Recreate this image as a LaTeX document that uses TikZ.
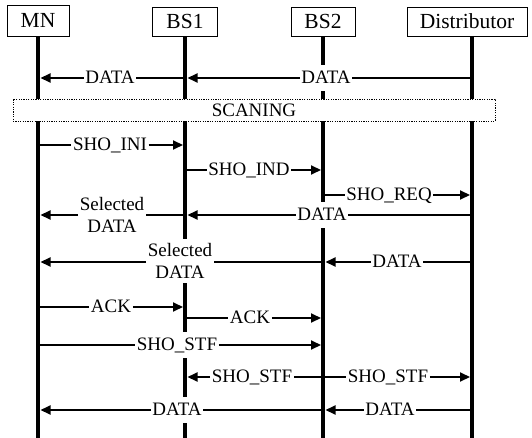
\documentclass[tikz,border=0pt]{standalone}
\usepackage{fontspec}
\setmainfont{Liberation Serif}
\usetikzlibrary{arrows.meta}
\begin{document}
\begin{tikzpicture}[x=1pt,y=-1pt,
  hdr/.style={draw, line width=0.8pt, minimum height=29pt, inner sep=0pt, font=\fontsize{21.5}{24}\selectfont},
  life/.style={line width=4pt},
  seg/.style={line width=2pt},
  msg/.style={line width=2pt, -{Triangle[length=10pt,width=9pt]}},
  lbl/.style={fill=white, inner xsep=1.5pt, inner ysep=5pt, text height=13.5pt, text depth=3pt, font=\fontsize{19}{22}\selectfont},
  mlbl/.style={fill=white, inner xsep=1.5pt, inner ysep=4pt, align=center, font=\fontsize{19}{22}\selectfont},
  scanbox/.style={draw, fill=white, line width=0.8pt, dash pattern=on 1.2pt off 1.2pt, minimum width=482pt, minimum height=22pt, inner sep=0pt, font=\fontsize{19}{22}\selectfont}
]
\useasboundingbox (0,0) rectangle (532,438);
% headers
\node[hdr, minimum width=62pt, minimum height=31pt] (mn) at (38,20.5) {MN};
\node[hdr, minimum width=65pt] (bs1) at (185,21.5) {BS1};
\node[hdr, minimum width=64pt] (bs2) at (323,21.5) {BS2};
\node[hdr, minimum width=120pt] (dist) at (467,21.5) {Distributor};
% lifelines
\coordinate (mnE) at (38,438);
\coordinate (bs1E) at (185,438);
\coordinate (bs2E) at (323,438);
\coordinate (dT) at (472,36);
\coordinate (dE) at (472,438);
\draw[life] (mn.south) -- (mnE);
\draw[life] (bs1.south) -- (bs1E);
\draw[life] (bs2.south) -- (bs2E);
\draw[life] (dT) -- (dE);
% scanning
\node[scanbox] (scan) at (254,110) {SCANING};
% row 1
\coordinate (a1s) at (472,78); \coordinate (a1e) at (187.5,78);
\coordinate (a2s) at (185,78); \coordinate (a2e) at (40.5,78);
\node[lbl] (l1) at (326,78) {DATA};
\node[lbl] (l2) at (110,78) {DATA};
\draw[seg] (a1s) -- (l1); \draw[msg] (l1) -- (a1e);
\draw[seg] (a2s) -- (l2); \draw[msg] (l2) -- (a2e);
% SHO_INI
\coordinate (b1s) at (38,145); \coordinate (b1e) at (183,145);
\node[lbl] (l3) at (110,145) {SHO\_INI};
\draw[seg] (b1s) -- (l3); \draw[msg] (l3) -- (b1e);
% SHO_IND
\coordinate (b2s) at (185,170); \coordinate (b2e) at (321,170);
\node[lbl] (l4) at (249,170) {SHO\_IND};
\draw[seg] (b2s) -- (l4); \draw[msg] (l4) -- (b2e);
% SHO_REQ
\coordinate (b3s) at (323,195); \coordinate (b3e) at (470,195);
\node[lbl] (l5) at (389,195) {SHO\_REQ};
\draw[seg] (b3s) -- (l5); \draw[msg] (l5) -- (b3e);
% row 215
\coordinate (c1s) at (472,215); \coordinate (c1e) at (187.5,215);
\coordinate (c2s) at (185,215); \coordinate (c2e) at (40.5,215);
\node[lbl] (l6) at (322,215) {DATA};
\node[mlbl] (l7) at (112,215) {Selected\\DATA};
\draw[seg] (c1s) -- (l6); \draw[msg] (l6) -- (c1e);
\draw[seg] (c2s) -- (l7); \draw[msg] (l7) -- (c2e);
% row 262
\coordinate (d1s) at (472,262); \coordinate (d1e) at (325.5,262);
\coordinate (d2s) at (323,262); \coordinate (d2e) at (40.5,262);
\node[lbl] (l8) at (397,262) {DATA};
\node[mlbl] (l9) at (180,261) {Selected\\DATA};
\draw[seg] (d1s) -- (l8); \draw[msg] (l8) -- (d1e);
\draw[seg] (d2s) -- (l9.east |- d2s); \draw[msg] (l9.west |- d2s) -- (d2e);
% ACK
\coordinate (e1s) at (38,307); \coordinate (e1e) at (183,307);
\node[lbl] (l10) at (111,307) {ACK};
\draw[seg] (e1s) -- (l10); \draw[msg] (l10) -- (e1e);
\coordinate (e2s) at (185,318); \coordinate (e2e) at (321,318);
\node[lbl] (l11) at (250,318) {ACK};
\draw[seg] (e2s) -- (l11); \draw[msg] (l11) -- (e2e);
% SHO_STF
\coordinate (f1s) at (38,345); \coordinate (f1e) at (321,345);
\node[lbl] (l12) at (177,345) {SHO\_STF};
\draw[seg] (f1s) -- (l12); \draw[msg] (l12) -- (f1e);
\coordinate (g1s) at (323,377); \coordinate (g1e) at (187.5,377);
\coordinate (g2s) at (323,377); \coordinate (g2e) at (470,377);
\node[lbl] (l13) at (252,377) {SHO\_STF};
\node[lbl] (l14) at (388,377) {SHO\_STF};
\draw[seg] (g1s) -- (l13); \draw[msg] (l13) -- (g1e);
\draw[seg] (g2s) -- (l14); \draw[msg] (l14) -- (g2e);
% final DATA
\coordinate (h1s) at (472,410); \coordinate (h1e) at (325.5,410);
\coordinate (h2s) at (323,410); \coordinate (h2e) at (40.5,410);
\node[lbl] (l15) at (390,410) {DATA};
\node[lbl] (l16) at (177,410) {DATA};
\draw[seg] (h1s) -- (l15); \draw[msg] (l15) -- (h1e);
\draw[seg] (h2s) -- (l16); \draw[msg] (l16) -- (h2e);
\end{tikzpicture}
\end{document}
